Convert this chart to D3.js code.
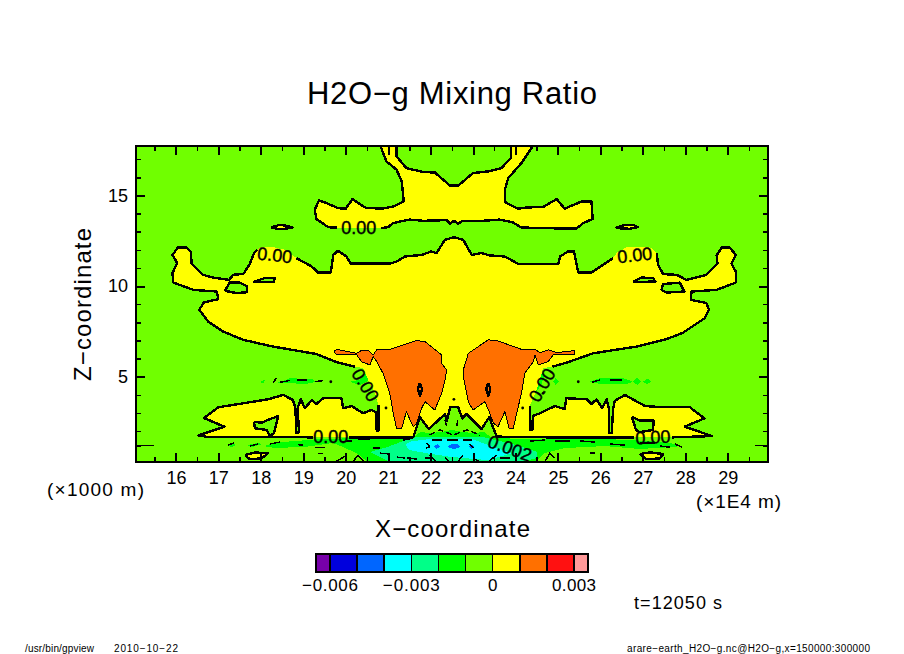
<!DOCTYPE html>
<html>
<head>
<meta charset="utf-8">
<script src="https://d3js.org/d3.v7.min.js"></script>
<style>
html, body { margin: 0; padding: 0; background: #fff; }
text { font-family: "Liberation Sans", sans-serif; fill: #000; }
.crisp { shape-rendering: crispEdges; }
</style>
</head>
<body>
<svg id="chart" width="904" height="654"></svg>
<script>
// Axis ticks, x in 1E4 m and z in 1000 m
var xMajor = [16, 17, 18, 19, 20, 21, 22, 23, 24, 25, 26, 27, 28, 29];
var xMinor = [15.5, 16.5, 17.5, 18.5, 19.5, 20.5, 21.5, 22.5, 23.5, 24.5, 25.5, 26.5, 27.5, 28.5, 29.5];
var zMajor = [5, 10, 15];
var zMinor = [1.19, 2, 3, 4, 6, 7, 8, 9, 11, 12, 13, 14, 16, 17];

// Colour bar
var levels = [-0.006, -0.005, -0.004, -0.003, -0.002, -0.001, 0, 0.001, 0.002, 0.003];
var levelEnds = [-0.0065, 0.00353];
var levelColors = ["#7700aa", "#0000dd", "#0066ff", "#00ffff", "#00ff88", "#00ff00", "#70ff00", "#ffff00", "#ff7000", "#ff1111", "#ff9999"];
var barLabels = [[-0.006, "\u22120.006", 56], [-0.003, "\u22120.003", 57], [0, "0", 10], [0.003, "0.003", 44]];

// Contour rings as [x, z], a third element means the line is broken there (label gap)
var yellowTop = [[20.78,17.97],[20.96,16.88],[21.20,16.42],[21.32,15.77],[21.37,14.67],[21.12,14.39],[20.85,14.27],[20.47,14.32],[20.16,14.80],[20.00,14.27],[19.82,14.30],[19.55,14.58],[19.37,14.72],[19.27,14.21],[19.31,13.70],[19.59,13.25],[19.79,13.22],[20.31,13.22,0],[20.83,13.20],[21.00,13.25],[21.12,13.48],[21.51,13.67],[21.83,13.60],[22.38,13.64],[22.46,13.44],[22.55,13.60],[22.65,13.44],[22.75,13.60],[23.23,13.60],[23.63,13.67],[23.94,13.51],[24.14,13.23],[25.05,13.18],[25.44,13.18],[25.60,13.48],[25.82,13.70],[25.79,14.67],[25.56,14.67],[25.16,14.27],[24.97,14.80],[24.65,14.36],[24.26,14.34],[24.06,14.27],[23.75,14.64],[23.75,15.32],[23.83,15.96],[24.14,16.79],[24.38,17.62],[24.43,17.97],[23.89,17.97],[23.89,17.07],[23.67,16.51],[23.36,16.33],[23.00,16.24],[22.65,15.54],[22.46,15.54],[22.10,16.27],[21.83,16.29],[21.43,16.51],[21.20,17.16],[21.20,17.97]];

var yellowMain = [[22.55,12.70],[22.34,12.55],[22.14,11.82],[22.02,11.91],[21.79,11.72],[21.40,11.63],[21.20,11.35],[21.04,11.24],[20.12,11.24],[20.02,11.63],[19.82,11.95],[19.71,11.72],[19.65,10.75],[19.35,10.75],[19.20,11.08],[18.84,11.54],[18.57,12.00,0],[18.29,12.15,0],[18.03,12.15,0],[17.91,12.00],[17.84,11.82],[17.73,11.17],[17.59,10.67],[17.35,10.62],[17.25,10.34],[16.87,10.47],[16.64,10.62],[16.37,11.23],[16.35,11.91],[16.25,12.13],[16.05,12.13],[15.92,11.72],[16.03,11.27],[15.92,10.71],[15.94,10.19],[16.41,9.79],[16.96,9.70],[17.00,9.28],[16.66,9.09],[16.55,8.69],[16.76,8.04],[17.11,7.49],[17.59,7.03],[18.29,6.66],[19.31,6.25],[19.79,5.80],[20.22,5.55],[20.41,5.47,0],[20.53,4.82,0],[20.69,4.08,0],[20.77,3.44],[20.78,2.06],[20.74,2.00],[20.73,2.06],[20.71,3.05],[20.61,3.16],[20.41,2.98],[20.14,3.38],[19.94,3.26],[19.90,3.81],[19.47,3.81],[19.31,3.49],[19.20,3.71],[19.04,3.26],[18.94,3.75],[18.87,3.27],[18.90,1.94],[18.83,1.89],[18.82,3.22],[18.76,3.71],[18.53,3.99],[18.17,3.75],[17.00,3.31],[16.66,2.72],[17.14,2.24],[16.53,1.76],[16.75,1.67],[18.21,1.67],[19.23,1.65],[19.65,1.65,0],[20.08,1.65],[21.59,1.65],[21.75,2.76],[21.96,2.11],[22.34,2.94],[22.38,2.55],[22.46,3.31],[22.65,3.31],[22.75,2.70],[22.85,2.94],[23.20,2.11],[23.38,2.76],[23.56,1.69],[24.81,1.65],[26.79,1.65],[27.24,1.65,0],[27.69,1.65],[28.63,1.72],[27.99,2.24],[28.45,2.70],[28.11,3.31],[27.47,3.31],[27.05,3.38],[26.58,3.99],[26.34,3.67],[26.30,3.22],[26.27,1.89],[26.21,1.89],[26.20,3.22],[26.15,3.75],[26.04,3.26],[25.91,3.75],[25.79,3.49],[25.68,3.75],[25.20,3.81],[25.16,3.21],[24.93,3.38],[24.58,2.98],[24.41,2.83],[24.40,2.06],[24.34,2.06],[24.34,3.38],[24.54,4.54,0],[24.65,5.47,0],[24.87,5.55],[25.20,5.77],[25.83,6.29],[26.85,6.66],[27.56,7.07],[27.95,7.43],[28.46,8.23],[28.56,8.69],[28.50,9.06],[28.13,9.24],[28.15,9.70],[28.74,9.79],[29.19,10.19],[29.19,10.80],[29.09,11.23],[29.19,11.72],[29.05,12.13],[28.86,12.13],[28.74,11.69],[28.76,11.23],[28.50,10.62],[28.03,10.34],[27.80,10.62],[27.48,10.66],[27.36,11.17],[27.33,11.82],[27.17,12.15,0],[26.62,12.15,0],[26.38,11.82,0],[26.30,11.54],[25.79,10.75],[25.48,10.75],[25.38,11.91],[25.24,11.91],[25.05,11.63],[25.01,11.23],[24.06,11.23],[23.75,11.63],[23.40,11.69],[23.20,11.82],[22.97,11.72],[22.77,12.55]];

var yellowLensA = [[18.24,13.23],[18.45,13.38],[18.57,13.34],[18.75,13.23],[18.57,13.16],[18.40,13.16]];
var yellowLensB = [[26.36,13.20],[26.58,13.38],[26.77,13.38],[26.88,13.25],[26.70,13.16]];
var yellowLensC = [[17.63,0.67],[17.86,0.82],[18.17,0.77],[18.02,0.49],[17.74,0.44]];
var yellowLensD = [[26.93,0.73],[27.17,0.82],[27.48,0.73],[27.40,0.49],[27.09,0.44]];

var limeHoleA = [[17.84,2.51],[17.86,2.15],[18.14,2.06],[18.21,1.72],[18.31,1.87],[18.41,2.83],[18.17,2.61],[18.02,2.46]];
var limeHoleB = [[26.74,2.79],[26.93,2.57],[27.26,2.57],[27.24,2.06],[26.93,1.94],[26.84,2.06]];
var limeHoleC = [[17.15,9.74],[17.27,10.19],[17.51,10.19],[17.68,9.97],[17.67,9.66],[17.43,9.61]];
var limeHoleD = [[27.44,9.79],[27.48,10.11],[27.87,10.19],[27.98,9.70],[27.56,9.64]];
var limeHoleE = [[17.82,10.22],[18.10,10.45],[18.33,10.44],[18.31,10.22]];
var limeHoleF = [[26.77,10.22],[26.97,10.47],[27.24,10.44],[27.30,10.25]];

var orangeLeft = [[19.72,6.38],[19.79,6.51],[20.26,6.29],[20.37,6.44],[20.53,6.44],[20.65,6.20],[20.73,6.48],[21.04,6.51],[21.67,6.99],[21.87,6.93],[22.26,6.20],[22.26,5.74],[22.38,5.37],[22.34,4.82],[22.26,4.08],[22.18,3.62],[22.10,3.16],[21.87,3.62],[21.79,3.26],[21.67,2.43],[21.59,2.24],[21.43,3.07],[21.32,2.15],[21.20,2.15],[21.12,2.98],[21.04,4.08],[20.88,5.19],[20.73,5.83],[20.65,6.11],[20.57,5.65],[20.37,5.83],[20.26,6.20],[19.79,6.20]];
var orangeRight = [[25.40,6.44],[25.40,6.25],[24.89,6.20],[24.77,5.83],[24.54,5.65],[24.46,6.20],[24.42,5.83],[24.22,5.19],[24.14,4.08],[24.03,2.98],[23.95,2.15],[23.85,2.15],[23.75,3.07],[23.59,2.24],[23.48,2.43],[23.38,3.07],[23.28,3.62],[23.00,3.16],[22.89,3.62],[22.77,5.00],[22.77,5.37],[22.89,6.29],[23.36,7.03],[23.56,6.99],[24.14,6.51],[24.46,6.51],[24.58,6.33],[24.77,6.48],[24.97,6.33]];
var coreLeft = [[21.75,4.65],[21.80,4.32],[21.75,3.93],[21.70,4.32]];
var coreRight = [[23.36,4.65],[23.41,4.32],[23.36,3.93],[23.31,4.32]];

var greenBand = [[18.07,1.17],[18.36,1.37],[18.83,1.45],[19.39,1.56],[19.98,1.59],[21.28,1.59],[21.61,1.64],[21.75,1.94],[22.03,1.89],[22.31,1.97],[22.50,2.06],[22.69,1.97],[22.97,1.89],[23.26,1.94],[23.44,1.64],[24.10,1.56],[25.05,1.59],[25.99,1.59],[26.58,1.50],[27.17,1.45],[27.64,1.34],[27.92,1.17],[27.52,1.09],[26.93,1.01],[26.11,1.17],[25.16,1.06],[24.69,0.78],[24.46,0.29],[20.52,0.29],[20.26,0.78],[19.86,1.19],[19.70,1.34],[19.08,1.13],[18.33,1.06]];
var greenBits = [
  [[17.20,1.22],[17.32,1.34],[17.41,1.22],[17.30,1.11]],
  [[17.67,1.22],[17.93,1.34],[18.03,1.28],[17.79,1.11]],
  [[17.98,4.72],[18.10,4.82],[18.06,4.60]],
  [[18.37,4.64],[18.69,4.91],[19.20,4.87],[19.31,4.72],[19.08,4.60],[18.61,4.64]],
  [[25.75,4.72],[25.99,4.91],[26.54,4.91],[26.77,4.72],[26.62,4.60],[25.99,4.60]],
  [[26.77,4.72],[26.87,4.95],[26.97,4.72],[26.87,4.54]],
  [[27.01,4.72],[27.10,4.91],[27.21,4.72],[27.09,4.58]],
  [[20.10,4.72],[20.33,4.82],[20.45,5.28],[20.57,4.82],[20.33,4.54]],
  [[20.69,4.10],[20.81,4.10],[20.78,3.62],[20.71,3.73]],
  [[24.46,4.08],[24.58,5.37],[24.69,5.00],[24.58,4.45]],
  [[24.89,4.72],[24.95,4.92],[25.02,4.72],[24.95,4.54]]
];
var springBand = [[20.57,0.84],[20.99,1.12],[21.35,1.45],[21.68,1.67],[23.23,1.67],[23.63,1.45],[24.10,1.17],[24.51,0.84],[24.51,0.51],[24.22,0.34],[23.87,0.29],[21.04,0.29]];
var cyanPool = [[21.40,1.23],[21.51,1.41],[21.91,1.54],[23.00,1.54],[23.35,1.23],[23.92,0.78],[23.35,0.40],[22.86,0.49],[22.46,0.58],[21.91,0.77],[21.51,0.95]];
var blueSpots = [
  [[22.41,1.17],[22.50,1.28],[22.64,1.28],[22.71,1.12],[22.57,1.01],[22.46,1.06]],
  [[22.08,1.17],[22.17,1.28],[22.22,1.12],[22.13,1.01]],
  [[22.90,1.17],[23.00,1.23],[23.04,1.12],[22.95,1.01]]
];

// Short broken negative contours near the ground and along the streaks at z=4.7
var dashLines = [
  [[15.06,1.19],[15.48,1.19]], [[29.64,1.19],[29.95,1.19]],
  [[17.23,1.22],[17.37,1.34]], [[17.74,1.17],[17.93,1.28]], [[18.21,1.28],[18.45,1.39]],
  [[18.87,1.25],[18.99,1.22]], [[19.27,1.08],[19.51,1.08]], [[19.86,1.41],[20.15,1.45]],
  [[20.29,1.56],[20.57,1.56]], [[20.64,1.06],[20.81,1.06]], [[20.81,0.78],[21.04,0.73]],
  [[21.35,1.50],[21.51,1.56]], [[21.21,0.56],[21.40,0.51]], [[21.44,0.51],[21.68,0.45]],
  [[21.87,0.51],[21.98,0.51]], [[19.35,0.77],[19.46,0.77]], [[19.79,0.34],[20.03,0.67]],
  [[20.17,0.30],[20.29,0.67],[20.45,0.30]], [[22.03,1.50],[22.27,1.50]], [[22.39,1.50],[22.64,1.50]],
  [[22.76,1.50],[22.97,1.50]], [[22.34,2.61],[22.38,2.28]], [[22.64,2.61],[22.62,2.28]],
  [[21.91,1.34],[21.98,1.12],[21.89,1.06]], [[22.93,1.28],[23.00,1.06]],
  [[21.98,0.67],[22.15,0.29]], [[22.34,0.51],[22.46,0.29]], [[22.64,0.29],[22.76,0.67]],
  [[23.00,0.51],[23.16,0.29]], [[23.35,0.29],[23.56,0.67]], [[23.63,0.51],[23.87,0.51]],
  [[24.34,1.45],[24.69,1.50]], [[24.93,1.45],[25.28,1.45]], [[25.52,1.45],[25.87,1.39]],
  [[26.23,1.28],[26.58,1.22]], [[26.93,1.34],[27.28,1.34]], [[27.40,1.17],[27.64,1.11]],
  [[27.76,1.28],[27.92,1.11]], [[25.75,0.78],[25.87,0.78]], [[24.69,0.29],[24.81,0.78],[24.93,0.51]],
  [[18.29,4.64],[18.37,4.95]], [[18.45,4.69],[18.69,4.79]], [[18.85,4.82],[19.08,4.82]],
  [[19.27,4.72],[19.46,4.78]], [[25.80,4.69],[25.99,4.82]], [[26.22,4.82],[26.50,4.82]]
];
var zigzagLine = [[21.98,1.78],[22.22,2.06],[22.53,1.78],[22.86,2.06],[23.16,1.78]];
var contourDots = [[19.65,4.72],[20.95,3.27],[22.55,3.75],[24.17,3.27],[25.48,4.72],[24.65,4.08]];

// Contour labels: x, z, text, rotation
var contourLabels = [
  [20.31, 13.22, "0.00", 0], [18.33, 11.72, "0.00", 6], [26.81, 11.72, "0.00", -6],
  [19.65, 1.67, "0.00", 0], [27.24, 1.67, "0.00", -3], [20.47, 4.54, "0.00", 58],
  [24.62, 4.54, "0.00", -60], [23.87, 1.06, "0.002", 20]
];

var svg = d3.select("#chart");
var x = d3.scaleLinear().domain([15.06, 29.95]).range([136, 768]);
var z = d3.scaleLinear().domain([0.29, 17.73]).range([462, 146]);
var colorOf = d3.scaleThreshold().domain(levels).range(levelColors);

var fillLine = d3.line().x(d => x(d[0])).y(d => z(d[1]));
var strokeLine = d3.line().defined(d => d.length == 2).x(d => x(d[0])).y(d => z(d[1]));

svg.append("clipPath").attr("id", "plot-clip").append("rect")
    .attr("x", 136).attr("y", 146).attr("width", 632).attr("height", 316);

var plot = svg.append("g").attr("clip-path", "url(#plot-clip)");
plot.append("rect").attr("class", "crisp").attr("x", 136).attr("y", 146).attr("width", 632).attr("height", 316)
    .attr("fill", colorOf(-0.0005));

function draw_fill(ring, value) {
    plot.append("path").attr("class", "crisp").attr("d", fillLine(ring) + "Z").attr("fill", colorOf(value));
}
function draw_line(ring, width, closed) {
    var pts = closed ? ring.concat([ring[0]]) : ring;
    plot.append("path").attr("class", "crisp").attr("d", strokeLine(pts)).attr("fill", "none")
        .attr("stroke", "#000").attr("stroke-width", width).attr("stroke-linejoin", "round");
}

// lower layers first
draw_fill(greenBand, -0.0015);
greenBits.forEach(r => draw_fill(r, -0.0015));
draw_fill(springBand, -0.0025);
draw_fill(cyanPool, -0.0035);
blueSpots.forEach(r => draw_fill(r, -0.0045));

[yellowTop, yellowMain, yellowLensA, yellowLensB, yellowLensC, yellowLensD].forEach(r => draw_fill(r, 0.0005));
[limeHoleA, limeHoleB, limeHoleC, limeHoleD, limeHoleE, limeHoleF].forEach(r => draw_fill(r, -0.0005));
[orangeLeft, orangeRight].forEach(r => draw_fill(r, 0.0015));

[orangeLeft, orangeRight].forEach(r => draw_line(r, 1, true));
[yellowTop, yellowMain, yellowLensA, yellowLensB, yellowLensC, yellowLensD,
    limeHoleA, limeHoleB, limeHoleC, limeHoleD, limeHoleE, limeHoleF].forEach(r => draw_line(r, 2.4, true));
[coreLeft, coreRight].forEach(r => {
    draw_fill(r, 0.0015);
    draw_line(r, 2.4, true);
});
dashLines.forEach(r => draw_line(r, 1.5, false));
plot.append("path").attr("class", "crisp").attr("d", strokeLine(zigzagLine)).attr("fill", "none")
    .attr("stroke", "#000").attr("stroke-width", 1.5).attr("stroke-dasharray", "6 3");
plot.selectAll("circle.dot").data(contourDots).enter().append("circle").attr("class", "dot")
    .attr("cx", d => x(d[0])).attr("cy", d => z(d[1])).attr("r", 1.4).attr("fill", "#000");

plot.selectAll("text.clabel").data(contourLabels).enter().append("text").attr("class", "clabel")
    .attr("transform", d => "translate(" + x(d[0]) + "," + z(d[1]) + ") rotate(" + d[3] + ")")
    .attr("text-anchor", "middle").attr("dy", "0.36em").style("font-size", "18px")
    .attr("stroke", "#000").attr("stroke-width", 0.4).text(d => d[2]);

// Frame and axes
svg.append("rect").attr("class", "crisp").attr("x", 136).attr("y", 146).attr("width", 632).attr("height", 316)
    .attr("fill", "none").attr("stroke", "#000").attr("stroke-width", 2.5);

function style_axis(g, width, size) {
    g.select(".domain").remove();
    g.selectAll("line").attr("class", "crisp").attr("stroke", "#000").attr("stroke-width", width);
    g.selectAll("text").style("font-size", size + "px");
}
var noLabel = d => "";
var plain = d3.format("d");
svg.append("g").attr("transform", "translate(0,462)")
    .call(d3.axisBottom(x).tickValues(xMajor).tickSize(-9).tickPadding(9).tickFormat(plain)).call(style_axis, 2, 18);
svg.append("g").attr("transform", "translate(0,462)")
    .call(d3.axisBottom(x).tickValues(xMinor).tickSize(-5).tickFormat(noLabel)).call(style_axis, 1.5, 18);
svg.append("g").attr("transform", "translate(0,146)")
    .call(d3.axisTop(x).tickValues(xMajor).tickSize(-9).tickFormat(noLabel)).call(style_axis, 2, 18);
svg.append("g").attr("transform", "translate(0,146)")
    .call(d3.axisTop(x).tickValues(xMinor).tickSize(-5).tickFormat(noLabel)).call(style_axis, 1.5, 18);
svg.append("g").attr("transform", "translate(136,0)")
    .call(d3.axisLeft(z).tickValues(zMajor).tickSize(-9).tickPadding(8).tickFormat(plain)).call(style_axis, 2, 18);
svg.append("g").attr("transform", "translate(136,0)")
    .call(d3.axisLeft(z).tickValues(zMinor).tickSize(-5).tickFormat(noLabel)).call(style_axis, 1.5, 18);
svg.append("g").attr("transform", "translate(768,0)")
    .call(d3.axisRight(z).tickValues(zMajor).tickSize(-9).tickFormat(noLabel)).call(style_axis, 2, 18);
svg.append("g").attr("transform", "translate(768,0)")
    .call(d3.axisRight(z).tickValues(zMinor).tickSize(-5).tickFormat(noLabel)).call(style_axis, 1.5, 18);

// Colour bar
var barScale = d3.scaleLinear().domain([-0.006, 0.003]).range([330, 574]);
var barEdges = [levelEnds[0]].concat(levels, [levelEnds[1]]);
var bar = svg.append("g");
bar.selectAll("rect").data(levelColors).enter().append("rect").attr("class", "crisp")
    .attr("x", (d, i) => barScale(barEdges[i])).attr("y", 554)
    .attr("width", (d, i) => barScale(barEdges[i + 1]) - barScale(barEdges[i])).attr("height", 18)
    .attr("fill", d => d).attr("stroke", "#000").attr("stroke-width", 1.5);
bar.append("rect").attr("class", "crisp").attr("x", barScale(barEdges[0])).attr("y", 554)
    .attr("width", barScale(barEdges[11]) - barScale(barEdges[0])).attr("height", 18)
    .attr("fill", "none").attr("stroke", "#000").attr("stroke-width", 2);
barLabels.forEach(function(b) {
    bar.append("text").attr("x", barScale(b[0])).attr("y", 591).attr("text-anchor", "middle")
        .attr("textLength", b[2]).attr("lengthAdjust", "spacing").style("font-size", "17px").text(b[1]);
});

// Titles and notes: text, left edge, width, baseline, font size
function add_text(str, left, width, base, size) {
    return svg.append("text").attr("x", left).attr("y", base).attr("textLength", width)
        .attr("lengthAdjust", "spacing").style("font-size", size + "px").text(str);
}
add_text("H2O\u2212g Mixing Ratio", 307, 290, 104, 31);
add_text("X\u2212coordinate", 375, 155, 537, 24);
add_text("(\u00d71000 m)", 47, 97, 496, 19);
add_text("(\u00d71E4 m)", 696, 85, 508, 19);
add_text("t=12050 s", 634, 88, 609, 18);
add_text("/usr/bin/gpview", 25, 69, 652, 10);
add_text("2010\u221210\u221222", 114, 64, 652, 10);
add_text("arare\u2212earth_H2O\u2212g.nc@H2O\u2212g,x=150000:300000", 627, 243, 652, 10);
svg.append("text").attr("transform", "translate(91,381) rotate(-90)").attr("textLength", 153)
    .attr("lengthAdjust", "spacing").style("font-size", "24px").text("Z\u2212coordinate");
</script>
</body>
</html>
